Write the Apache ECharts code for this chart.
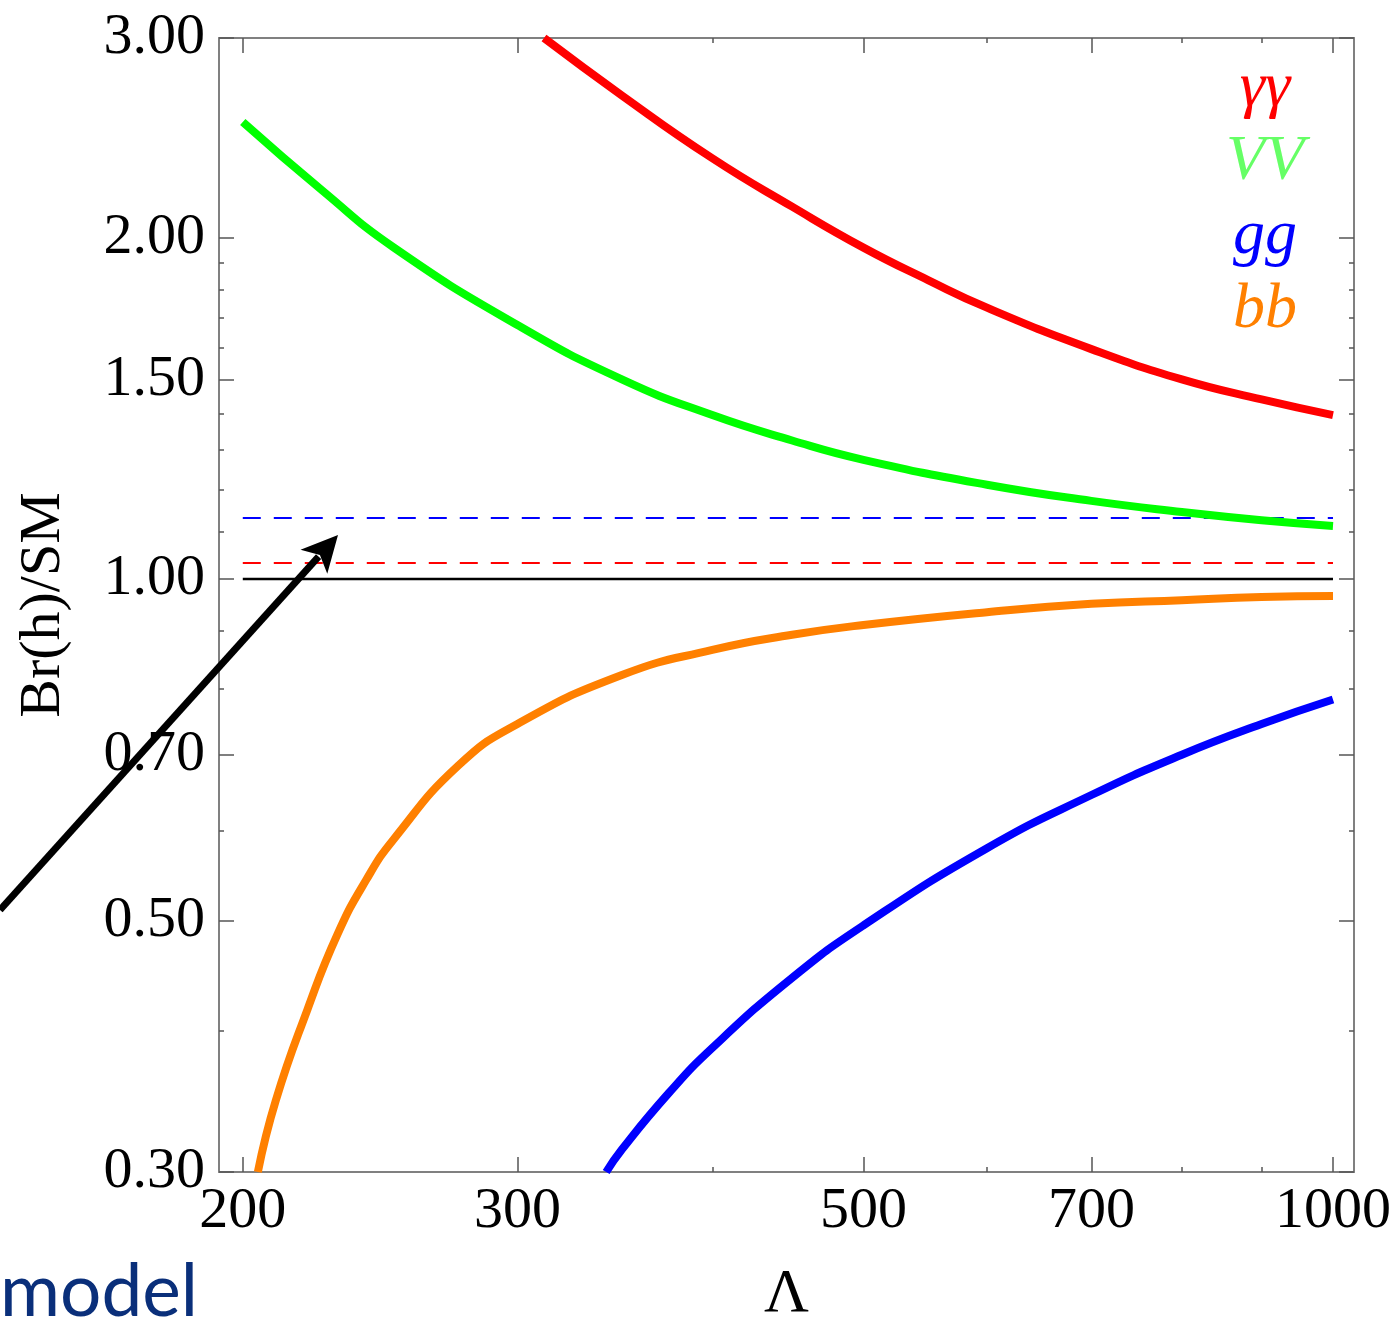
<!DOCTYPE html>
<html>
<head>
<meta charset="utf-8">
<script src="https://cdn.jsdelivr.net/npm/echarts@6.0.0/dist/echarts.min.js"></script>
<style>
html,body{margin:0;padding:0;background:#fff;}
#chart{width:1400px;height:1321px;}
</style>
</head>
<body>
<div id="chart"></div>
<script>
// ---- data ----
const lambdaGammaGamma = [312, 350, 400, 450, 500, 550, 600, 700, 800, 900, 1000];
const brGammaGamma     = [3.00, 2.67, 2.35, 2.13, 1.96, 1.835, 1.735, 1.595, 1.50, 1.44, 1.395];

const lambdaVV = [200, 225, 250, 300, 350, 400, 450, 500, 600, 700, 800, 900, 1000];
const brVV     = [2.53, 2.20, 1.96, 1.675, 1.50, 1.395, 1.325, 1.274, 1.211, 1.172, 1.146, 1.127, 1.114];

const lambdaBB = [204.5, 210, 220, 230, 240, 250, 275, 300, 350, 400, 450, 500, 600, 700, 800, 900, 1000];
const brBB     = [0.30, 0.347, 0.417, 0.486, 0.543, 0.59, 0.685, 0.745, 0.823, 0.866, 0.893, 0.911, 0.935, 0.951, 0.958, 0.964, 0.966];

const lambdaGG = [342, 350, 375, 400, 450, 500, 600, 700, 800, 900, 1000];
const brGG     = [0.30, 0.314, 0.352, 0.386, 0.445, 0.495, 0.579, 0.645, 0.700, 0.745, 0.783];

const lambdaRef   = [200, 1000];
const refBlueDash = [1.132, 1.132];
const refRedDash  = [1.033, 1.033];
const refSM       = [1.0, 1.0];

const xMajorTicks = [200, 300, 500, 700, 1000];
const xMinorTicks = [400, 600, 800, 900];
const yMajorTicks = [0.3, 0.5, 0.7, 1.0, 1.5, 2.0, 3.0];
const yMinorTicks = [0.4, 0.6, 0.8, 0.9, 1.1, 1.2, 1.3, 1.4, 1.6, 1.7, 1.8, 1.9];

const legendLabels = ['γγ', 'VV', 'gg', 'bb'];
const legendColors = ['#ff0000', '#66ff66', '#0000ff', '#ff8000'];

// ---- chart ----
const zip = (xs, ys) => xs.map((x, i) => [x, ys[i]]);
const X_MIN = 193.1, X_MAX = 1031.5, Y_MIN = 0.3, Y_MAX = 3.0;
const SERIF = '"Liberation Serif", "Times New Roman", serif';
const FRAME = '#808080';
const TICK = '#555555';

function xAxis(position, ticks, len, showLabel, showLine, extra) {
  return Object.assign({
    type: 'log', logBase: 10, min: X_MIN, max: X_MAX, position: position,
    axisLine: { show: showLine, onZero: false, lineStyle: { color: FRAME, width: 2 } },
    axisTick: { show: true, inside: true, length: len, customValues: ticks, lineStyle: { color: TICK, width: 1.5 } },
    axisLabel: showLabel ? {
      show: true, customValues: ticks, margin: 11, color: '#000',
      fontFamily: SERIF, fontSize: 58,
      formatter: v => String(Math.round(v))
    } : { show: false },
    splitLine: { show: false }, minorTick: { show: false }
  }, extra || {});
}
function yAxis(position, ticks, len, showLabel, showLine, extra) {
  return Object.assign({
    type: 'log', logBase: 10, min: Y_MIN, max: Y_MAX, position: position,
    axisLine: { show: showLine, onZero: false, lineStyle: { color: FRAME, width: 2 } },
    axisTick: { show: true, inside: true, length: len, customValues: ticks, lineStyle: { color: TICK, width: 1.5 } },
    axisLabel: showLabel ? {
      show: true, customValues: ticks, margin: 14, color: '#000',
      fontFamily: SERIF, fontSize: 58,
      formatter: v => Number(v).toFixed(2)
    } : { show: false },
    splitLine: { show: false }, minorTick: { show: false }
  }, extra || {});
}

function curve(name, data, color) {
  return { name, type: 'line', xAxisIndex: 0, yAxisIndex: 0, data, showSymbol: false,
    smooth: 0.5, clip: true, z: 5,
    lineStyle: { color, width: 8, cap: 'butt' } };
}
function ref(name, data, color, width, dashed) {
  return { name, type: 'line', xAxisIndex: 0, yAxisIndex: 0, data, showSymbol: false, z: 3,
    lineStyle: { color, width, type: dashed ? [18, 13] : 'solid' } };
}

// arrow geometry (annotation)
const tip = [338, 535], tail = [0, 910];
const dx = tip[0] - tail[0], dy = tip[1] - tail[1], L = Math.hypot(dx, dy);
const ux = dx / L, uy = dy / L, px = -uy, py = ux;
const headLen = 36, headHalf = 18, notch = 27;
const b1 = [tip[0] - ux * headLen + px * headHalf, tip[1] - uy * headLen + py * headHalf];
const b2 = [tip[0] - ux * headLen - px * headHalf, tip[1] - uy * headLen - py * headHalf];
const nb = [tip[0] - ux * notch, tip[1] - uy * notch];

const legendY = [88, 162, 236, 310];

const option = {
  animation: false,
  backgroundColor: '#ffffff',
  grid: { left: 219, right: 46, top: 38, bottom: 149, containLabel: false, outerBoundsMode: 'none' },
  xAxis: [
    xAxis('bottom', xMajorTicks, 15, true, true, {
      name: 'Λ', nameLocation: 'middle', nameGap: 92,
      nameTextStyle: { fontFamily: SERIF, fontSize: 62, color: '#000' }
    }),
    xAxis('bottom', xMinorTicks, 5, false, false),
    xAxis('top', xMajorTicks, 15, false, true),
    xAxis('top', xMinorTicks, 5, false, false)
  ],
  yAxis: [
    yAxis('left', yMajorTicks, 15, true, true, {
      name: 'Br(h)/SM', nameLocation: 'middle', nameGap: 146, nameRotate: 90,
      nameTextStyle: { fontFamily: SERIF, fontSize: 58, color: '#000' }
    }),
    yAxis('left', yMinorTicks, 5, false, false),
    yAxis('right', yMajorTicks, 15, false, true),
    yAxis('right', yMinorTicks, 5, false, false)
  ],
  series: [
    ref('ref gg', zip(lambdaRef, refBlueDash), '#0000ff', 2, true),
    ref('ref γγ', zip(lambdaRef, refRedDash), '#ff0000', 2, true),
    ref('SM', zip(lambdaRef, refSM), '#000000', 2.5, false),
    curve('γγ', zip(lambdaGammaGamma, brGammaGamma), '#ff0000'),
    curve('VV', zip(lambdaVV, brVV), '#00ff00'),
    curve('bb', zip(lambdaBB, brBB), '#ff8000'),
    curve('gg', zip(lambdaGG, brGG), '#0000ff')
  ],
  graphic: [
    ...legendLabels.map((t, i) => ({
      type: 'text', x: 1265, y: legendY[i], z: 50,
      style: { text: t, fill: legendColors[i], fontFamily: SERIF, fontStyle: 'italic',
        fontSize: 64, align: 'center', verticalAlign: 'middle' }
    })),
    { type: 'line', z: 100,
      shape: { x1: tail[0], y1: tail[1], x2: nb[0] - ux * 2, y2: nb[1] - uy * 2 },
      style: { stroke: '#000', lineWidth: 7 } },
    { type: 'polygon', z: 100,
      shape: { points: [tip, b1, nb, b2] },
      style: { fill: '#000' } },
    { type: 'text', x: 0, y: 1292, z: 100,
      style: { text: 'model', fill: '#0a2f7a', fontFamily: 'Lato, "Open Sans", sans-serif',
        fontSize: 73, align: 'left', verticalAlign: 'middle' } }
  ]
};

const chart = echarts.init(document.getElementById('chart'), null, { renderer: 'canvas' });
chart.setOption(option);
</script>
</body>
</html>
